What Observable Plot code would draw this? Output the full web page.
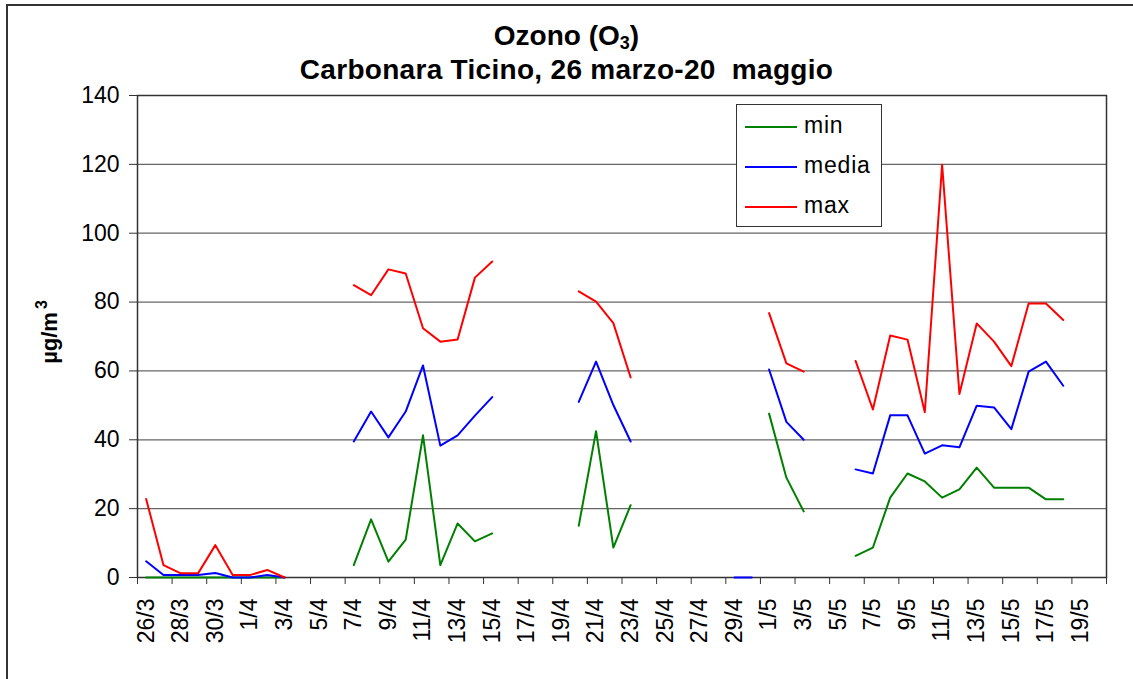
<!DOCTYPE html>
<html>
<head>
<meta charset="utf-8">
<script src="https://cdn.jsdelivr.net/npm/d3@7"></script>
<script src="https://cdn.jsdelivr.net/npm/@observablehq/plot@0.6"></script>
<style>
  html, body { margin: 0; padding: 0; background: #fff; }
  #page { position: relative; width: 1133px; height: 679px; overflow: hidden; font-family: "Liberation Sans", Arial, sans-serif; }
  #border { position: absolute; left: 6px; top: 4px; width: 1200px; height: 800px; border-left: 2px solid #333; border-top: 2px solid #333; pointer-events: none; }
  #head { height: 80px; box-sizing: border-box; padding-top: 19px; text-align: center; font-weight: bold; font-size: 28px; line-height: 34px; color: #000; }
  #head .l2 { letter-spacing: 0.3px; }
  #head sub { font-size: 18px; vertical-align: -4px; line-height: 0; }
  #ylabel { position: absolute; left: 50px; top: 332px; transform: translate(-50%, -50%) rotate(-90deg); font-weight: bold; font-size: 22px; white-space: nowrap; }
  #ylabel sup { font-size: 16px; vertical-align: 10px; line-height: 0; margin-left: 3px; }
  #legend { position: absolute; left: 736px; top: 104px; width: 144px; height: 121px; border: 1px solid #333; background: #fff; font-size: 23px; }
  #legend .row { position: absolute; left: 0; height: 30px; width: 144px; }
  #legend svg { position: absolute; left: 8px; top: 14px; }
  #legend span { position: absolute; left: 67px; top: 1px; line-height: 26px; letter-spacing: 0.8px; }
</style>
</head>
<body>
<div id="page">
  <div id="head">
    <div>Ozono (O<sub>3</sub>)</div>
    <div class="l2">Carbonara Ticino, 26 marzo-20&nbsp; maggio</div>
  </div>
  <div id="chart"></div>
  <div id="ylabel">µg/m<sup>3</sup></div>
  <div id="legend"></div>
  <div id="border"></div>
</div>
<script>
// Category labels (one per day, 26/3 .. 20/5)
const dates = [
  "26/3","27/3","28/3","29/3","30/3","31/3",
  "1/4","2/4","3/4","4/4","5/4","6/4","7/4","8/4","9/4","10/4",
  "11/4","12/4","13/4","14/4","15/4","16/4","17/4","18/4","19/4","20/4",
  "21/4","22/4","23/4","24/4","25/4","26/4","27/4","28/4","29/4","30/4",
  "1/5","2/5","3/5","4/5","5/5","6/5","7/5","8/5","9/5","10/5",
  "11/5","12/5","13/5","14/5","15/5","16/5","17/5","18/5","19/5","20/5"
];
const _ = null;
// min
const minV = [
  0, 0, 0, 0, 0, 0, 0, 0, 0,
  _, _, _,
  3.6, 16.9, 4.6, 11.0, 41.3, 3.6, 15.7, 10.5, 12.8,
  _, _, _, _,
  15.0, 42.5, 8.7, 21.0,
  _, _, _, _, _, _, _,
  47.6, 29.0, 19.2,
  _, _,
  6.3, 8.7, 23.2, 30.2, 27.9, 23.2, 25.6, 31.9, 26.1, 26.1, 26.1, 22.7, 22.7,
  _, _
];
// media
const mediaV = [
  4.7, 0.7, 0.7, 0.7, 1.3, 0, 0, 0.7, 0,
  _, _, _,
  39.5, 48.2, 40.7, 48.2, 61.6, 38.3, 41.3, 47.0, 52.4,
  _, _, _, _,
  51.0, 62.7, 50.1, 39.5,
  _, _, _, _, _, _, _,
  60.4, 45.2, 40.0,
  _, _,
  31.4, 30.2, 47.1, 47.1, 36.0, 38.4, 37.8, 49.9, 49.4, 43.1, 59.8, 62.7, 55.7,
  _, _
];
// media: separate short run at 0 (29/4 - 30/4), not joined to 1/5 in the original
const mediaZeroRun = [
  _, _, _, _, _, _, _, _, _, _, _, _, _, _, _, _, _, _, _, _,
  _, _, _, _, _, _, _, _, _, _, _, _, _, _, 0, 0, _, _, _, _,
  _, _, _, _, _, _, _, _, _, _, _, _, _, _, _, _
];
// max
const maxV = [
  22.8, 3.6, 1.2, 1.2, 9.4, 0.7, 0.7, 2.2, 0,
  _, _, _,
  84.9, 82.0, 89.5, 88.3, 72.4, 68.5, 69.1, 87.1, 91.8,
  _, _, _, _,
  83.1, 80.1, 73.9, 58.1,
  _, _, _, _, _, _, _,
  76.8, 62.2, 59.8,
  _, _,
  62.9, 48.8, 70.3, 69.1, 48.0, 119.9, 53.3, 73.8, 68.5, 61.4, 79.6, 79.6, 74.8,
  _, _
];
const seriesNames = ["min", "media", "max"];
const seriesColors = ["#008000", "#0000ff", "#ff0000"];
const yTicks = [0, 20, 40, 60, 80, 100, 120, 140];

const table = (vals) => dates.map((d, i) => ({i: i + 0.5, v: vals[i]}));

const n = dates.length;
const boundaryTicks = d3.range(0, n + 1, 2);
const labelTicks = d3.range(0, n, 2).map(i => i + 0.5);

const chart = Plot.plot({
  width: 1133,
  height: 599,
  marginTop: 15,
  marginBottom: 102,
  marginLeft: 137,
  marginRight: 27,
  style: {fontFamily: "'Liberation Sans', Arial, sans-serif", fontSize: "22px", color: "#000", background: "transparent", overflow: "visible"},
  x: {type: "linear", domain: [0, n]},
  y: {domain: [0, 140]},
  marks: [
    Plot.gridY(yTicks.filter(t => t > 0), {stroke: "#666", strokeOpacity: 1, strokeWidth: 1.2}),
    Plot.axisY({ticks: yTicks, tickSize: 8, tickPadding: 10, fontSize: 23, label: null, stroke: "#333"}),
    Plot.axisX({ticks: boundaryTicks, tickSize: 7, tickFormat: () => "", label: null, stroke: "#333"}),
    Plot.axisX({ticks: labelTicks, tickSize: 0, tickPadding: 21, tickRotate: -90, fontSize: 23, label: null,
                tickFormat: d => dates[Math.floor(d)]}),
    Plot.frame({stroke: "#333", strokeWidth: 1.5}),
    Plot.line(table(minV), {x: "i", y: "v", stroke: seriesColors[0], strokeWidth: 2}),
    Plot.line(table(mediaV), {x: "i", y: "v", stroke: seriesColors[1], strokeWidth: 2}),
    Plot.line(table(mediaZeroRun), {x: "i", y: "v", stroke: seriesColors[1], strokeWidth: 2}),
    Plot.line(table(maxV), {x: "i", y: "v", stroke: seriesColors[2], strokeWidth: 2})
  ]
});
document.getElementById("chart").appendChild(chart);

// Legend
const legend = document.getElementById("legend");
seriesNames.forEach((name, k) => {
  const row = document.createElement("div");
  row.className = "row";
  row.style.top = (6 + k * 40) + "px";
  row.innerHTML = `<svg width="52" height="4"><line x1="0" y1="2" x2="52" y2="2" stroke="${seriesColors[k]}" stroke-width="2"/></svg><span>${name}</span>`;
  legend.appendChild(row);
});
</script>
</body>
</html>
